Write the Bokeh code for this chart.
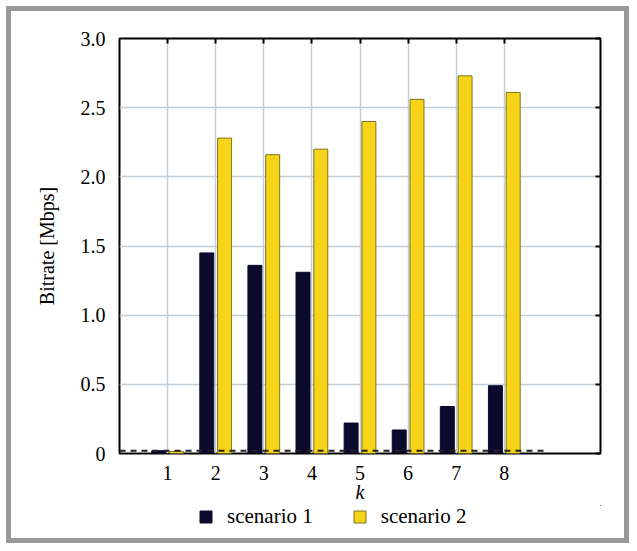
from bokeh.plotting import figure
from bokeh.layouts import column
from bokeh.models import (ColumnDataSource, FixedTicker, LinearAxis, Legend, LegendItem,
                          Range1d)
from bokeh.transform import dodge
from bokeh.embed import file_html
from bokeh.resources import INLINE

# ---- data ----
k_values = [1, 2, 3, 4, 5, 6, 7, 8]
k_labels = ["1", "2", "3", "4", "5", "6", "7", "8"]
scenario1 = [0.02, 1.45, 1.36, 1.31, 0.22, 0.17, 0.34, 0.49]
scenario2 = [0.015, 2.28, 2.16, 2.20, 2.40, 2.56, 2.73, 2.61]
series_names = ["scenario 1", "scenario 2"]
y_ticks = [0, 0.5, 1.0, 1.5, 2.0, 2.5, 3.0]
y_tick_labels = ["0", "0.5", "1.0", "1.5", "2.0", "2.5", "3.0"]
threshold_x = [0, 8.9]
threshold_y = [0.02, 0.02]

FONT = "Liberation Serif"
DARK = "#0c0a2c"
YELLOW = "#f8d418"
YELLOW_EDGE = "#7d7322"
GRID = "#c3ced6"
FS = "20px"

src = ColumnDataSource(dict(k=k_values, s1=scenario1, s2=scenario2))

W = 613
H1 = 494
H2 = 33
MB_L, MB_R = 108, 24

p = figure(width=W, height=H1, output_backend="svg", toolbar_location=None,
           x_range=Range1d(0, 10), y_range=Range1d(0, 3.0),
           min_border_left=MB_L, min_border_top=27, min_border_right=MB_R,
           min_border_bottom=51, background_fill_color="white",
           border_fill_color="white")

p.outline_line_color = "black"
p.outline_line_width = 2

# bars
r1 = p.vbar(x=dodge("k", -0.185, range=p.x_range), top="s1", width=0.29, source=src,
            fill_color=DARK, line_color=DARK, line_width=1)
r2 = p.vbar(x=dodge("k", 0.185, range=p.x_range), top="s2", width=0.29, source=src,
            fill_color=YELLOW, line_color=YELLOW_EDGE, line_width=1)

# dashed threshold
p.line(threshold_x, threshold_y, line_color="#222222", line_width=2, line_dash="6 5")

# axes
xt = FixedTicker(ticks=k_values)
yt = FixedTicker(ticks=y_ticks)

xa = p.xaxis[0]
xa.ticker = xt
xa.major_label_overrides = {v: lab for v, lab in zip(k_values, k_labels)}
xa.axis_label = "k"
xa.axis_label_text_font = FONT
xa.axis_label_text_font_style = "italic"
xa.axis_label_text_font_size = FS
xa.axis_label_text_color = "black"
xa.axis_label_standoff = -2
xa.major_label_text_font = FONT
xa.major_label_text_font_size = FS
xa.major_label_text_color = "black"
xa.major_label_standoff = 6
xa.major_tick_line_color = None
xa.minor_tick_line_color = None
xa.axis_line_color = None

ya = p.yaxis[0]
ya.ticker = yt
ya.major_label_overrides = {v: lab for v, lab in zip(y_ticks, y_tick_labels)}
ya.axis_label = "Bitrate [Mbps]"
ya.axis_label_text_font = FONT
ya.axis_label_text_font_style = "normal"
ya.axis_label_text_font_size = FS
ya.axis_label_text_color = "black"
ya.axis_label_standoff = 20
ya.major_label_text_font = FONT
ya.major_label_text_font_size = FS
ya.major_label_text_color = "black"
ya.major_label_standoff = 8
ya.major_tick_line_color = None
ya.minor_tick_line_color = None
ya.axis_line_color = None

top = LinearAxis(ticker=xt, major_tick_in=5, major_tick_out=0, major_tick_line_width=2,
                 major_tick_line_color="black", minor_tick_line_color=None,
                 axis_line_color=None, major_label_text_font_size="1px",
                 major_label_text_alpha=0, major_label_standoff=0)
right = LinearAxis(ticker=yt, major_tick_in=5, major_tick_out=0, major_tick_line_width=2,
                   major_tick_line_color="black", minor_tick_line_color=None,
                   axis_line_color=None, major_label_text_font_size="1px",
                   major_label_text_alpha=0, major_label_standoff=0)
p.add_layout(top, "above")
p.add_layout(right, "right")

p.xgrid.ticker = xt
p.ygrid.ticker = yt
p.grid.grid_line_color = GRID
p.grid.grid_line_width = 1.5

# legend strip (separate small figure beneath the chart; its bars lie outside its view)
p2 = figure(width=W, height=H2, output_backend="svg", toolbar_location=None,
            x_range=Range1d(-30, -20), y_range=Range1d(-2, -1),
            x_axis_location=None, y_axis_location=None, min_border=0,
            min_border_left=MB_L, min_border_right=MB_R,
            background_fill_color="white", border_fill_color="white")
p2.outline_line_color = None
p2.grid.visible = False
g1 = p2.vbar(x="k", top="s1", width=0.29, source=src,
             fill_color=DARK, line_color=DARK, line_width=1)
g2 = p2.vbar(x="k", top="s2", width=0.29, source=src,
             fill_color=YELLOW, line_color=YELLOW_EDGE, line_width=1)
legend = Legend(items=[LegendItem(label=series_names[0], renderers=[g1]),
                       LegendItem(label=series_names[1], renderers=[g2])],
                orientation="horizontal", location=(79, 9),
                label_text_font=FONT, label_text_font_size="21px",
                label_text_color="black",
                glyph_width=15, glyph_height=15, label_standoff=14, spacing=39,
                padding=0, margin=0, border_line_color=None,
                background_fill_alpha=0)
p2.add_layout(legend, "center")

inner = column(p, p2, spacing=0, styles={"border": "5px solid #999999"})
layout = column(inner, spacing=0, styles={"padding": "6px 0 0 6px",
                                          "background-color": "white"})

open("out.html", "w").write(file_html(layout, INLINE))
